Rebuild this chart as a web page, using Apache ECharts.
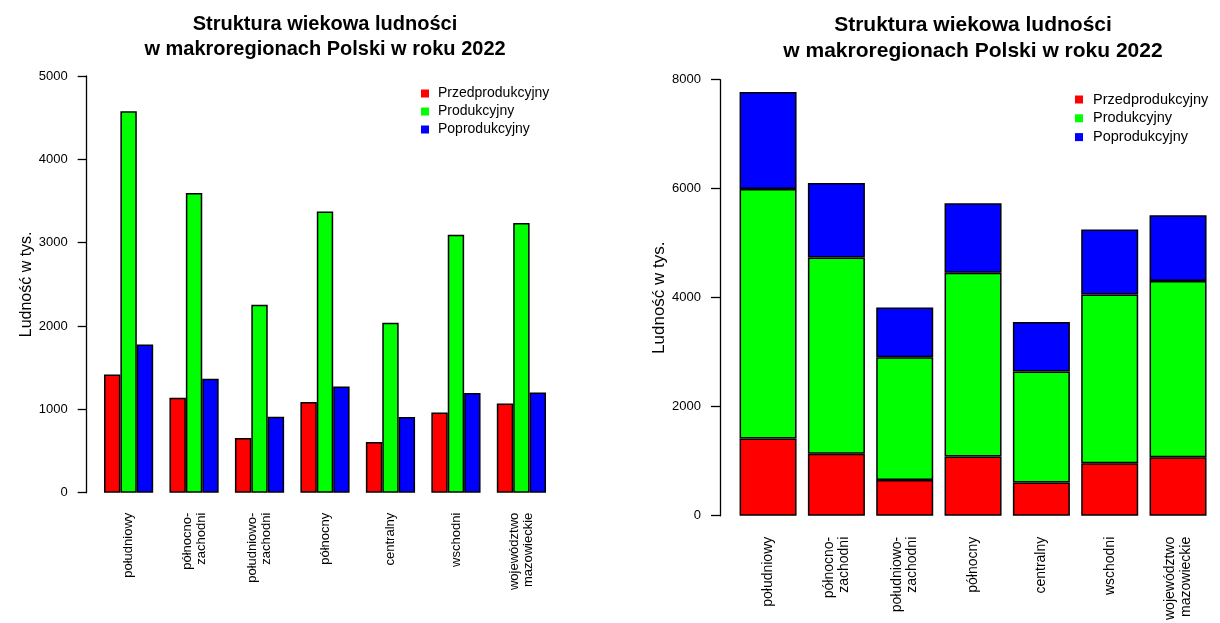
<!DOCTYPE html>
<html>
<head>
<meta charset="utf-8">
<script src="https://cdn.jsdelivr.net/npm/echarts@6/dist/echarts.min.js"></script>
<style>
  html, body { margin: 0; padding: 0; background: #fff; }
  #chart { width: 1220px; height: 623px; }
</style>
</head>
<body>
<div id="chart"></div>
<script>
// Age structure of the population by Polish macroregion, 2022 (thousands)
const categories = [
  'południowy',
  'północno-\nzachodni',
  'południowo-\nzachodni',
  'północny',
  'centralny',
  'wschodni',
  'województwo\nmazowieckie'
];
const seriesNames = ['Przedprodukcyjny', 'Produkcyjny', 'Poprodukcyjny'];
const przedprodukcyjny = [1419, 1139, 655, 1087, 608, 963, 1071];
const produkcyjny      = [4576, 3597, 2254, 3373, 2038, 3094, 3237];
const poprodukcyjny    = [1779, 1367, 911, 1275, 907, 1195, 1203];
const colors = ['#ff0000', '#00ff00', '#0000ff'];

const FONT = "'Liberation Sans', Arial, Helvetica, sans-serif";
const titleText = 'Struktura wiekowa ludności\nw makroregionach Polski w roku 2022';
const yName = 'Ludność w tys.';

const values = [przedprodukcyjny, produkcyjny, poprodukcyjny];

function yAxisCfg(gridIndex, max, interval, offset, nameGap, nameSize) {
  return {
    type: 'value', gridIndex, min: 0, max, interval, offset,
    name: yName, nameLocation: 'middle', nameGap,
    nameTextStyle: { fontFamily: FONT, fontSize: nameSize, color: '#000' },
    axisLine: { show: true, lineStyle: { color: '#000', width: 1.3 } },
    axisTick: { show: true, length: 9, lineStyle: { color: '#000', width: 1.3 } },
    axisLabel: { fontFamily: FONT, fontSize: 13, color: '#000', margin: 19,
      formatter: v => String(v) },
    splitLine: { show: false }
  };
}

function xAxisCfg(gridIndex, fontSize, margin, lineHeight) {
  return {
    type: 'category', gridIndex, data: categories,
    axisLine: { show: false }, axisTick: { show: false },
    axisLabel: { rotate: 90, interval: 0, fontFamily: FONT, fontSize, lineHeight, color: '#000', margin }
  };
}

const series = [];
// grouped bars (left panel)
seriesNames.forEach((name, i) => {
  series.push({
    name, type: 'bar', xAxisIndex: 0, yAxisIndex: 0,
    data: values[i], barWidth: 16.4, barGap: '0%',
    itemStyle: { color: colors[i], borderColor: '#000', borderWidth: 1.5 },
    emphasis: { disabled: true }
  });
});
// stacked bars (right panel)
seriesNames.forEach((name, i) => {
  series.push({
    name, type: 'bar', xAxisIndex: 1, yAxisIndex: 1, stack: 'total',
    data: values[i], barWidth: 57,
    itemStyle: { color: colors[i], borderColor: '#000', borderWidth: 1.5 },
    emphasis: { disabled: true }
  });
});

const legendBase = {
  orient: 'vertical', icon: 'rect', itemWidth: 8, itemHeight: 8, padding: 0,
  data: seriesNames, selectedMode: false,
  itemStyle: { borderWidth: 0 }
};

const option = {
  backgroundColor: '#fff',
  animation: false,
  color: colors,
  title: [
    { text: titleText, left: 325, top: 11.5, textAlign: 'center', padding: 0,
      textStyle: { fontFamily: FONT, fontSize: 20, fontWeight: 'bold', color: '#000', lineHeight: 25 } },
    { text: titleText, left: 973, top: 12, textAlign: 'center', padding: 0,
      textStyle: { fontFamily: FONT, fontSize: 21, fontWeight: 'bold', color: '#000', lineHeight: 26 } }
  ],
  legend: [
    Object.assign({}, legendBase, {
      left: 421, top: 86.5, itemGap: 4,
      textStyle: { fontFamily: FONT, fontSize: 14, lineHeight: 14, color: '#000', padding: [0, 0, 0, 4] }
    }),
    Object.assign({}, legendBase, {
      left: 1075, top: 92, itemGap: 3.8,
      textStyle: { fontFamily: FONT, fontSize: 14.5, lineHeight: 15, color: '#000', padding: [0, 0, 0, 5] }
    })
  ],
  grid: [
    { left: 95.85, width: 458.3, top: 76, height: 416.7 },
    { left: 733.9, width: 478.3, top: 79.7, height: 442.8 }
  ],
  xAxis: [xAxisCfg(0, 13, 20, 14), xAxisCfg(1, 14, 21, 15.5)],
  yAxis: [
    yAxisCfg(0, 5000, 1000, 9.2, 52, 16),
    yAxisCfg(1, 8000, 2000, 13.9, 50, 17)
  ],
  series
};

const chart = echarts.init(document.getElementById('chart'), null, { renderer: 'canvas' });
chart.setOption(option);
</script>
</body>
</html>
